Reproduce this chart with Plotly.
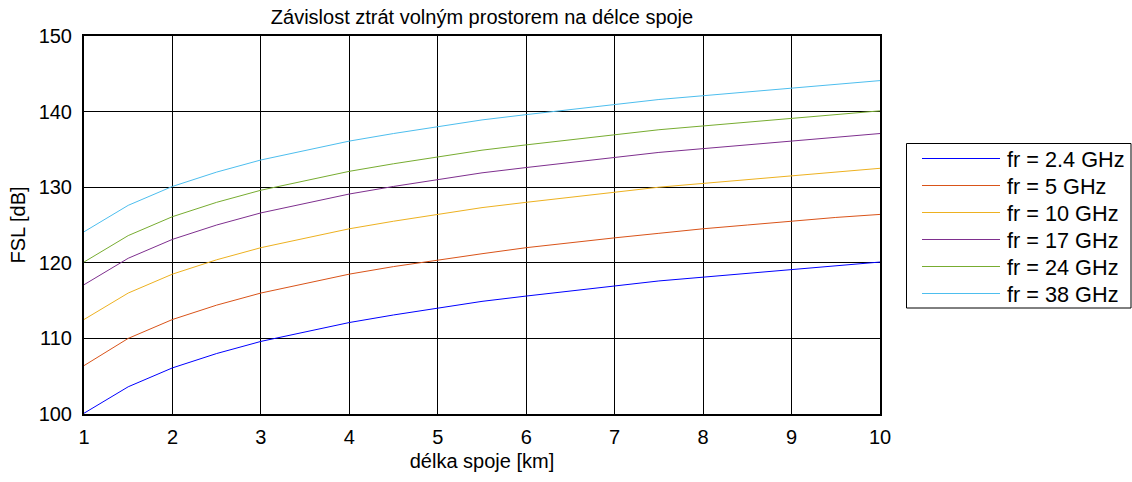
import plotly.graph_objects as go

distance_km = [1, 1.5, 2, 2.5, 3, 3.5, 4, 4.5, 5, 5.5, 6, 6.5, 7, 7.5, 8, 8.5, 9, 9.5, 10]
labels = ["fr = 2.4 GHz", "fr = 5 GHz", "fr = 10 GHz", "fr = 17 GHz", "fr = 24 GHz", "fr = 38 GHz"]
fsl_2_4 = [100.1, 103.6, 106.1, 108.0, 109.6, 110.9, 112.1, 113.1, 114.0, 114.9, 115.6, 116.3, 117.0, 117.6, 118.1, 118.6, 119.1, 119.6, 120.1]
fsl_5 = [106.4, 110.0, 112.5, 114.4, 116.0, 117.3, 118.5, 119.5, 120.4, 121.2, 122.0, 122.7, 123.3, 123.9, 124.5, 125.0, 125.5, 126.0, 126.4]
fsl_10 = [112.5, 116.0, 118.5, 120.4, 122.0, 123.3, 124.5, 125.5, 126.4, 127.3, 128.0, 128.7, 129.4, 130.0, 130.5, 131.0, 131.5, 132.0, 132.5]
fsl_17 = [117.1, 120.6, 123.1, 125.0, 126.6, 127.9, 129.1, 130.1, 131.0, 131.9, 132.6, 133.3, 134.0, 134.6, 135.1, 135.6, 136.1, 136.6, 137.1]
fsl_24 = [120.1, 123.6, 126.1, 128.0, 129.6, 130.9, 132.1, 133.1, 134.0, 134.9, 135.6, 136.3, 137.0, 137.6, 138.1, 138.6, 139.1, 139.6, 140.1]
fsl_38 = [124.1, 127.6, 130.1, 132.0, 133.6, 134.9, 136.1, 137.1, 138.0, 138.9, 139.6, 140.3, 141.0, 141.6, 142.1, 142.6, 143.1, 143.6, 144.1]
series = [fsl_2_4, fsl_5, fsl_10, fsl_17, fsl_24, fsl_38]
colors = ["#0000FF", "#D95319", "#EDB120", "#7E2F8E", "#77AC30", "#4DBEEE"]
x_ticks = [1, 2, 3, 4, 5, 6, 7, 8, 9, 10]
y_ticks = [100, 110, 120, 130, 140, 150]

FONT = "Liberation Sans, Arial, sans-serif"
W, H = 1132, 482
ML, MR, MT, MB = 84, 252, 36, 68
PW, PH = W - ML - MR, H - MT - MB


def px(x):
    return (x - ML) / PW


def py(y):
    return (H - MB - y) / PH


fig = go.Figure()
for lab, ys, c in zip(labels, series, colors):
    fig.add_trace(go.Scatter(x=distance_km, y=ys, mode="lines", name=lab,
                             line=dict(color=c, width=1), showlegend=False))

# legend box drawn in the right margin (MATLAB style, long line samples)
shapes = [dict(type="rect", xref="paper", yref="paper", x0=px(906.5), x1=px(1131), y0=py(308), y1=py(143.5),
               line=dict(color="black", width=1), fillcolor="white", layer="above")]
annotations = []
for i, (lab, c) in enumerate(zip(labels, colors)):
    yy = 158.5 + i * 27
    shapes.append(dict(type="line", xref="paper", yref="paper", x0=px(922), x1=px(1000), y0=py(yy), y1=py(yy),
                       line=dict(color=c, width=1.2), layer="above"))
    annotations.append(dict(text=lab, xref="paper", yref="paper", x=px(1005), y=py(yy + 1), xanchor="left",
                            yanchor="middle", showarrow=False, font=dict(size=21.7, color="black")))

fig.update_layout(
    width=W, height=H,
    margin=dict(l=ML, r=MR, t=MT, b=MB),
    paper_bgcolor="white", plot_bgcolor="white",
    font=dict(family=FONT, size=20, color="black"),
    title=dict(text="Závislost ztrát volným prostorem na délce spoje", x=0.5, xref="paper", xanchor="center",
               y=1 - 17 / H, yanchor="middle", font=dict(size=20)),
    xaxis=dict(range=[1, 10], tickvals=x_ticks, showgrid=True, gridcolor="black",
               gridwidth=1, showline=True, linecolor="black", linewidth=2, mirror=True,
               ticks="", zeroline=False, automargin=True,
               title=dict(text="délka spoje [km]", standoff=7, font=dict(size=20)),
               tickfont=dict(size=20), ticklabelstandoff=4),
    yaxis=dict(range=[100, 150], tickvals=y_ticks, showgrid=True, gridcolor="black",
               gridwidth=1, showline=True, linecolor="black", linewidth=2, mirror=True,
               ticks="", zeroline=False, title=dict(text="FSL [dB]", standoff=8, font=dict(size=20)),
               tickfont=dict(size=20), ticklabelstandoff=6),
    shapes=shapes,
    annotations=annotations,
)
fig.write_html("out.html")
